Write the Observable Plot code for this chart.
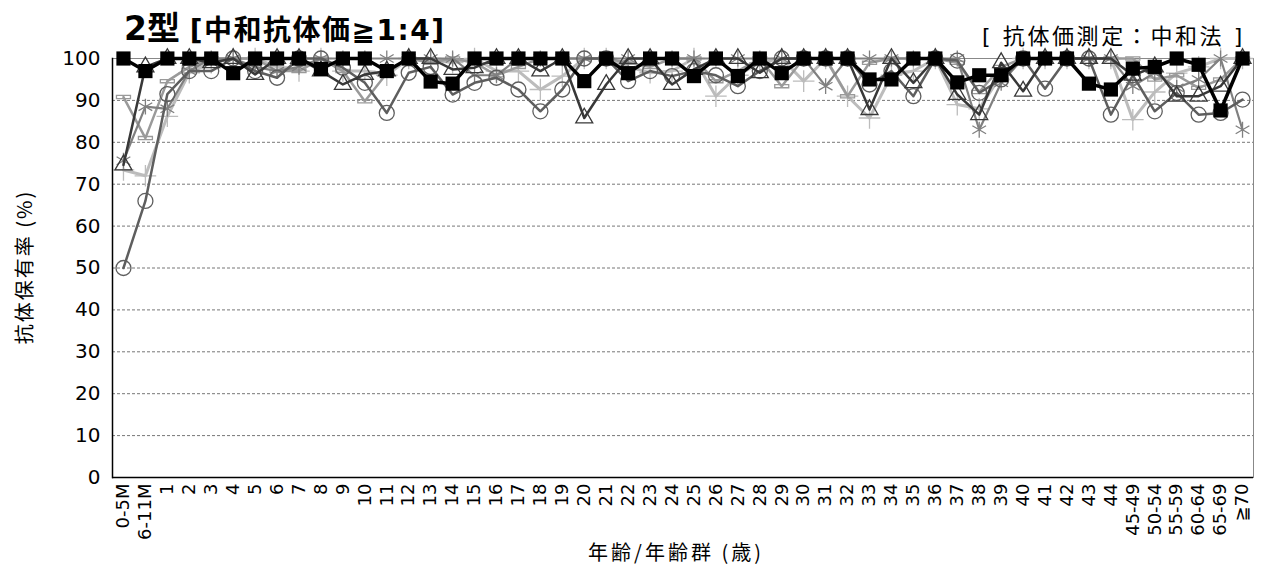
<!DOCTYPE html>
<html><head><meta charset="utf-8">
<script src="https://cdn.jsdelivr.net/npm/d3@7"></script>
<script src="https://cdn.jsdelivr.net/npm/@observablehq/plot@0.6"></script>
<style>
body{margin:0;background:#fff;}
#wrap{position:relative;width:1264px;height:565px;}
#title{position:absolute;left:124px;top:2px;font-family:"DejaVu Sans","Noto Sans CJK JP",sans-serif;font-weight:bold;font-size:28px;white-space:nowrap;}
#title .big{font-size:33px;}
#title .br{letter-spacing:1.5px;}
#method{position:absolute;right:19px;top:18px;font-family:"DejaVu Sans","Noto Sans CJK JP",sans-serif;font-size:22px;letter-spacing:2.6px;white-space:nowrap;}
#ylab{position:absolute;left:23px;top:267px;transform:translate(-50%,-50%) rotate(-90deg);font-family:"Noto Sans CJK JP",sans-serif;font-size:20px;letter-spacing:2px;white-space:nowrap;}
#xlab{position:absolute;left:676px;top:551px;transform:translate(-50%,-50%);font-family:"Noto Sans CJK JP",sans-serif;font-size:20px;letter-spacing:3px;white-space:nowrap;}
#chart{position:absolute;left:0;top:0;}
</style></head>
<body><div id="wrap">
<div id="chart"></div>
<div id="title"><span class="big">2型</span> <span class="br">[中和抗体価≧1:4]</span></div>
<div id="method">[ 抗体価測定：中和法 ]</div>
<div id="ylab">抗体保有率 (%)</div>
<div id="xlab">年齢/年齢群 (歳)</div>
</div>
<script>
const categories = ["0-5M","6-11M","1","2","3","4","5","6","7","8","9","10","11","12","13","14","15","16","17","18","19","20","21","22","23","24","25","26","27","28","29","30","31","32","33","34","35","36","37","38","39","40","41","42","43","44","45-49","50-54","55-59","60-64","65-69","≧70"];
const yTicks = [0,10,20,30,40,50,60,70,80,90,100];

const plusValues = [73.4,72,86.2,96.6,99,100,100,98,97,100,97,97,96,100,100,99,100,97,97,92.6,95.8,100,100,98,96.6,97,100,91,96,99,100,94.6,100,91,85.8,96,97,100,89,88,96,100,100,100,100,100,85.4,92,96.5,98,100,100];
const dashValues = [90.8,81,94.6,98,100,100,100,97,97,100,97,89.8,96.5,100,99,100,99,96,98,100,100,100,100,99,98,100,100,94.6,97,100,93.4,100,100,91,99,100,100,100,99,92,98,100,100,100,100,100,100,95,96,93,95,100];
const asteriskValues = [75.6,88.5,88,97,100,100,98,97,98,100,100,100,100,100,100,100,96,96,100,100,100,100,100,100,100,100,100,100,100,100,100,100,93.4,100,100,100,100,100,100,83,94.2,100,100,100,100,100,93.4,96.6,93,95,100,83];
const circleValues = [50,66,91.5,97,97,100,97,95.4,100,100,97.8,94.2,87,96.6,98,91.4,94.2,95.4,92.6,87.4,92.6,100,100,94.6,97,95.8,97,96,93.4,97,100,100,100,100,93.8,97,91,100,99.5,91.8,95,100,92.8,100,100,86.6,96,87.4,91.8,86.6,87,90.2];
const triangleValues = [74.6,98,100,100,99,100,96.2,100,100,97,93.8,96.2,97,100,100,97.4,97.8,100,100,97,100,85.8,93.8,100,100,93.8,97.4,100,100,96.6,100,100,100,100,87.8,100,94.2,100,91.4,86.6,99,92.2,100,100,100,100,96,98,91,91,93.4,100];
const squareValues = [100,97,100,100,100,96.5,100,100,100,97.5,100,100,97,100,94.5,94,100,100,100,100,100,94.6,100,96.5,100,100,95.8,100,95.8,100,96.5,100,100,100,95,95,100,100,94.3,96,96,100,100,100,94,92.6,97.6,98,100,98.5,87.6,100];

const dashSymbol = {draw(ctx, size){ const w = 7, h = 1.6; ctx.moveTo(-w,-h); ctx.lineTo(w,-h); ctx.lineTo(w,h); ctx.lineTo(-w,h); ctx.closePath(); }};

const series = [
  {values: plusValues, symbol: "plus", stroke: "#bcbcbc", width: 3, r: 7, fill: "none"},
  {values: dashValues, symbol: dashSymbol, stroke: "#9a9a9a", width: 2.5, r: 7, fill: "none"},
  {values: asteriskValues, symbol: "asterisk", stroke: "#808080", width: 2.2, r: 7.5, fill: "none"},
  {values: circleValues, symbol: "circle", stroke: "#5e5e5e", width: 2.5, r: 7.5, fill: "none"},
  {values: triangleValues, symbol: "triangle", stroke: "#383838", width: 2.5, r: 6.3, fill: "none"},
  {values: squareValues, symbol: "square", stroke: "#000", width: 3.5, r: 8, fill: "#000"}
];

const marks = [
  Plot.gridY(yTicks.filter(v => v > 0 && v < 100), {stroke: "#777", strokeOpacity: 1, strokeDasharray: "3,2", strokeWidth: 1}),
  Plot.frame({stroke: "#888"}),
  Plot.ruleY([0], {stroke: "#000", strokeWidth: 1.5}),
  Plot.axisY({ticks: yTicks, tickSize: 0, tickPadding: 12, label: null}),
  Plot.axisX({tickSize: 0, tickRotate: -90, tickPadding: 6, label: null})
];
for (const s of series) {
  const rows = categories.map((c, i) => ({c, v: s.values[i]}));
  marks.push(Plot.line(rows, {x: "c", y: "v", stroke: s.stroke, strokeWidth: s.width, curve: "linear"}));
  marks.push(Plot.dot(rows, {x: "c", y: "v", symbol: () => s.symbol, r: s.r, stroke: s.stroke, strokeWidth: s.symbol === "square" ? 0 : 1.3, fill: s.fill}));
}
marks.push(Plot.frame({anchor: "left", stroke: "#000", strokeWidth: 1.5}));

const chart = Plot.plot({
  width: 1264, height: 565,
  marginTop: 58, marginBottom: 88, marginLeft: 112, marginRight: 11,
  x: {type: "point", domain: categories, padding: 0.5, label: null},
  y: {domain: [0, 100], label: null},
  symbol: {type: "identity"},
  style: {fontFamily: "DejaVu Sans, sans-serif", color: "#000", background: "#fff", overflow: "visible"},
  marks
});
d3.select(chart).selectAll('g[aria-label="y-axis tick label"]').attr("font-size", 20).selectAll("text").style("font-size", "20px");
d3.select(chart).selectAll('g[aria-label="x-axis tick label"]').attr("font-size", 18).selectAll("text").style("font-size", "18px");
document.getElementById("chart").appendChild(chart);
</script>
</body></html>
